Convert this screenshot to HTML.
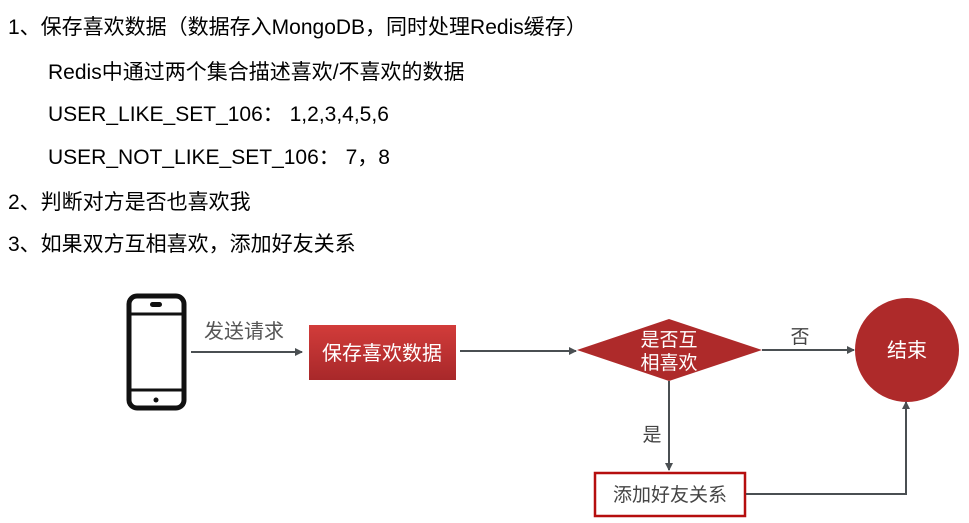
<!DOCTYPE html>
<html><head><meta charset="utf-8"><style>
body{margin:0;width:969px;height:523px;background:#fff;position:relative;overflow:hidden;font-family:"Liberation Sans","Noto Sans CJK SC",sans-serif;color:#000}
.t{position:absolute;font-size:21px;line-height:26px;white-space:nowrap}
</style></head><body>
<div class="t" style="left:8px;top:15px">1、保存喜欢数据（数据存入MongoDB，同时处理Redis缓存）</div>
<div class="t" style="left:48px;top:60px">Redis中通过两个集合描述喜欢/不喜欢的数据</div>
<div class="t" style="left:48px;top:102px">USER_LIKE_SET_106： 1,2,3,4,5,6</div>
<div class="t" style="left:48px;top:145px">USER_NOT_LIKE_SET_106： 7，8</div>
<div class="t" style="left:8px;top:190px">2、判断对方是否也喜欢我</div>
<div class="t" style="left:8px;top:232px">3、如果双方互相喜欢，添加好友关系</div>
<svg width="969" height="523" style="position:absolute;left:0;top:0">
<defs>
<marker id="a" markerWidth="8" markerHeight="8" refX="7" refY="4" orient="auto" markerUnits="userSpaceOnUse"><path d="M0,0L8,4L0,8z" fill="#4a4f52"/></marker>
<linearGradient id="g" x1="0" y1="0" x2="0" y2="1"><stop offset="0" stop-color="#d23c3a"/><stop offset="1" stop-color="#a8282a"/></linearGradient>
</defs>
<rect x="129" y="296" width="55" height="112" rx="8" fill="#fff" stroke="#111" stroke-width="5"/>
<line x1="131" y1="314" x2="182" y2="314" stroke="#111" stroke-width="3"/>
<line x1="131" y1="390" x2="182" y2="390" stroke="#111" stroke-width="3"/>
<rect x="150" y="302" width="12" height="5" rx="2.5" fill="#111"/>
<circle cx="156" cy="400" r="2.5" fill="#111"/>
<text x="204" y="338" font-size="20" fill="#555" font-family="Liberation Sans,Noto Sans CJK SC,sans-serif">发送请求</text>
<line x1="191" y1="352" x2="302" y2="352" stroke="#4a4f52" stroke-width="2" marker-end="url(#a)"/>
<rect x="309" y="325" width="147" height="55" fill="url(#g)"/>
<text x="382" y="360" font-size="20" fill="#fff" text-anchor="middle" font-family="Liberation Sans,Noto Sans CJK SC,sans-serif">保存喜欢数据</text>
<line x1="460" y1="351" x2="576" y2="351" stroke="#4a4f52" stroke-width="2" marker-end="url(#a)"/>
<polygon points="577,350 669,319 762,350 669,381" fill="#ae2a2a"/>
<text x="669" y="346" font-size="19" fill="#fff" text-anchor="middle" font-family="Liberation Sans,Noto Sans CJK SC,sans-serif">是否互</text>
<text x="669" y="369" font-size="19" fill="#fff" text-anchor="middle" font-family="Liberation Sans,Noto Sans CJK SC,sans-serif">相喜欢</text>
<line x1="762" y1="350" x2="854" y2="350" stroke="#4a4f52" stroke-width="2" marker-end="url(#a)"/>
<text x="800" y="343" font-size="19" fill="#444" text-anchor="middle" font-family="Liberation Sans,Noto Sans CJK SC,sans-serif">否</text>
<circle cx="907" cy="350" r="52" fill="#ae2a2a"/>
<text x="907" y="357" font-size="20" fill="#fff" text-anchor="middle" font-family="Liberation Sans,Noto Sans CJK SC,sans-serif">结束</text>
<line x1="669" y1="381" x2="669" y2="470" stroke="#4a4f52" stroke-width="2" marker-end="url(#a)"/>
<text x="652" y="441" font-size="19" fill="#444" text-anchor="middle" font-family="Liberation Sans,Noto Sans CJK SC,sans-serif">是</text>
<rect x="595" y="473" width="150" height="43" fill="#fff" stroke="#b50e0e" stroke-width="2.5"/>
<text x="670" y="501" font-size="19" fill="#444" text-anchor="middle" font-family="Liberation Sans,Noto Sans CJK SC,sans-serif">添加好友关系</text>
<polyline points="746,494 906,494 906,402" fill="none" stroke="#4a4f52" stroke-width="2" marker-end="url(#a)"/>
</svg>
</body></html>
